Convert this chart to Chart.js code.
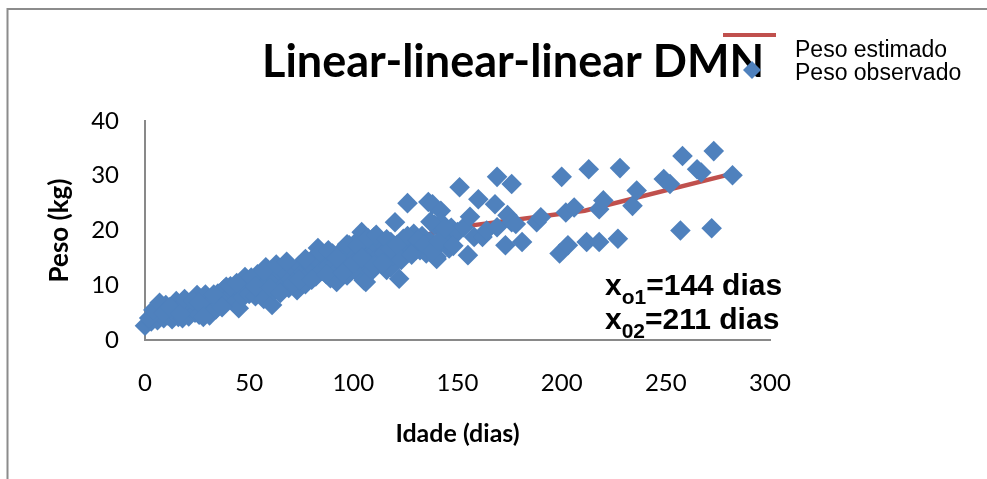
<!DOCTYPE html>
<html>
<head>
<meta charset="utf-8">
<script src="https://cdn.jsdelivr.net/npm/chart.js@4.4.1/dist/chart.umd.min.js"></script>
<style>
  body { margin: 0; background: #fff; }
  canvas { display: block; }
</style>
</head>
<body>
<canvas id="dmnChart" width="987" height="479"></canvas>
<script>
// observed weights (idade em dias, peso em kg)
var ageObs = [0, 3, 5, 6, 8, 9, 10, 11, 13, 14, 15, 16, 17, 18, 20, 21, 22, 24, 25, 26,
  27, 29, 30, 31, 32, 34, 35, 36, 38, 39, 40, 42, 43, 45, 46, 47, 48, 49, 50, 52,
  53, 54, 55, 56, 57, 58, 59, 60, 61, 62, 63, 64, 66, 67, 68, 69, 70, 72, 73, 74,
  75, 76, 77, 78, 79, 80, 81, 82, 83, 84, 85, 86, 88, 89, 90, 91, 92, 93, 94, 95,
  96, 97, 98, 99, 100, 101, 102, 103, 104, 105, 105, 106, 106, 107, 108, 109, 109, 110, 111, 112,
  113, 113, 114, 115, 116, 118, 118, 119, 120, 122, 122, 124, 125, 126, 127, 129, 130, 132, 133, 135,
  136, 137, 138, 139, 140, 140, 142, 142, 142, 143, 145, 146, 146, 147, 150, 151, 153, 155, 156, 158,
  160, 162, 164, 168, 169, 169, 173, 174, 176, 176, 178, 181, 188, 190, 199, 200, 202, 203, 206, 212,
  213, 218, 218, 220, 227, 228, 234, 236, 249, 252, 257, 258, 265, 267, 272, 273, 282,
  2, 4, 7, 9, 12, 17, 19, 23, 26, 28, 33, 37, 41, 44, 51, 53, 57, 60, 63, 65,
  68, 71, 74, 77, 80, 84, 87, 88, 92, 95, 97, 100, 102, 104, 107, 110, 111, 114, 116, 118,
  121, 123, 126, 128, 131, 134, 137, 138, 141, 144, 148];
var pesoObs = [2.6, 3.4, 4.6, 3.6, 5.8, 4.0, 6.4, 4.5, 3.8, 5.4, 7.1, 4.2, 6.0, 4.0, 5.2, 4.3, 6.6, 5.0, 8.2, 4.6,
  6.4, 8.3, 5.2, 4.5, 7.0, 5.6, 8.5, 6.5, 9.3, 9.7, 7.5, 8.6, 6.8, 5.8, 9.2, 7.8, 11.5, 9.6, 8.4, 10.5,
  8.0, 12.0, 9.6, 11.2, 7.5, 13.3, 10.4, 12.2, 6.4, 9.0, 11.0, 12.8, 13.3, 10.1, 12.0, 9.5, 11.2, 12.7, 9.1, 13.6,
  11.4, 12.4, 10.2, 14.1, 12.1, 13.4, 15.0, 11.6, 16.8, 14.2, 12.6, 15.4, 13.5, 11.3, 15.8, 14.0, 10.6, 13.0, 16.2, 14.6,
  13.3, 11.8, 17.3, 15.2, 16.0, 12.7, 14.5, 18.5, 19.7, 10.9, 13.6, 16.5, 10.6, 15.4, 17.9, 12.7, 14.2, 18.8, 16.4, 17.0,
  14.5, 15.6, 17.6, 16.0, 12.8, 13.3, 17.9, 15.4, 21.5, 11.2, 16.2, 18.5, 15.6, 25.0, 17.0, 19.4, 16.4, 16.4, 19.0, 15.8,
  25.2, 18.0, 24.8, 21.0, 15.2, 14.8, 23.6, 20.6, 21.5, 18.8, 19.1, 16.7, 17.6, 20.5, 19.7, 27.9, 20.6, 15.5, 22.5, 18.8,
  25.7, 18.8, 20.0, 24.8, 29.8, 20.6, 17.3, 22.8, 28.5, 21.5, 21.2, 17.9, 21.5, 22.4, 15.8, 29.8, 23.3, 17.3, 24.2, 17.9,
  31.2, 23.9, 17.9, 25.5, 18.5, 31.4, 24.5, 27.3, 29.4, 28.5, 20.0, 33.6, 31.2, 30.6, 20.4, 34.5, 30.1,
  4.0, 5.5, 6.8, 5.0, 6.0, 4.8, 7.5, 7.2, 6.8, 4.2, 8.3, 6.0, 9.8, 10.4, 11.4, 9.8, 12.6, 9.6, 13.8, 8.6,
  14.3, 10.4, 11.0, 14.8, 11.0, 16.0, 12.0, 16.4, 15.0, 12.3, 17.5, 14.0, 17.2, 15.0, 18.6, 13.6, 19.2, 14.0, 18.4, 16.6,
  17.4, 14.6, 19.0, 15.6, 18.2, 17.4, 21.6, 16.2, 18.0, 20.4, 17.2];

// fitted linear-linear-linear model, break points at 144 and 211 days
var ageEst = [0, 144, 211, 282];
var pesoEst = [2.5, 20.3, 23.6, 30.4];

var xTicks = [0, 50, 100, 150, 200, 250, 300];
var yTicks = [0, 10, 20, 30, 40];

var chartTitle = 'Linear-linear-linear DMN';
var legendLabels = ['Peso estimado', 'Peso observado'];
var breakNotes = [['x', 'o1', '=144 dias'], ['x', '02', '=211 dias']];

var blue = '#4F81BD';
var red = '#C0504D';
var axisGray = '#898989';

function toPoints(xs, ys) {
  return xs.map(function (x, i) { return { x: x, y: ys[i] }; });
}

// frame, title, legend and the break point notes
var extras = {
  id: 'extras',
  beforeDraw: function (chart) {
    var ctx = chart.ctx;
    ctx.save();
    ctx.strokeStyle = '#8c8c8c';
    ctx.lineWidth = 2;
    ctx.beginPath();
    ctx.moveTo(7.5, 479);
    ctx.lineTo(7.5, 9);
    ctx.lineTo(987, 9);
    ctx.stroke();
    ctx.restore();
  },
  afterDraw: function (chart) {
    var ctx = chart.ctx;
    ctx.save();
    ctx.fillStyle = '#000';
    ctx.textBaseline = 'alphabetic';
    ctx.textAlign = 'left';

    ctx.font = 'bold 45px Lato';
    ctx.fillText(chartTitle, 262, 77);

    // legend
    ctx.strokeStyle = red;
    ctx.lineWidth = 4;
    ctx.beginPath();
    ctx.moveTo(723, 35);
    ctx.lineTo(776, 35);
    ctx.stroke();
    ctx.fillStyle = blue;
    ctx.beginPath();
    ctx.moveTo(752, 61);
    ctx.lineTo(761, 70);
    ctx.lineTo(752, 79);
    ctx.lineTo(743, 70);
    ctx.closePath();
    ctx.fill();
    ctx.fillStyle = '#000';
    ctx.font = '23px "Liberation Sans"';
    ctx.fillText(legendLabels[0], 795, 57);
    ctx.fillText(legendLabels[1], 795, 80);

    // x_o1 / x_02 notes
    var baselines = [295, 329];
    breakNotes.forEach(function (n, i) {
      var x = 605;
      var y = baselines[i];
      ctx.font = 'bold 30px "Liberation Sans"';
      ctx.fillText(n[0], x, y);
      x += ctx.measureText(n[0]).width;
      ctx.font = 'bold 21px "Liberation Sans"';
      ctx.fillText(n[1], x, y + 9);
      x += ctx.measureText(n[1]).width;
      ctx.font = 'bold 30px "Liberation Sans"';
      ctx.fillText(n[2], x, y);
    });
    ctx.restore();
  }
};

new Chart(document.getElementById('dmnChart'), {
  type: 'scatter',
  data: {
    datasets: [{
      label: legendLabels[1],
      data: toPoints(ageObs, pesoObs),
      pointStyle: 'rectRot',
      pointRadius: 10.3,
      pointBackgroundColor: blue,
      pointBorderWidth: 0,
      clip: false
    }, {
      label: legendLabels[0],
      type: 'line',
      data: toPoints(ageEst, pesoEst),
      borderColor: red,
      borderWidth: 4.5,
      pointRadius: 0,
      fill: false,
      tension: 0
    }]
  },
  options: {
    responsive: false,
    animation: false,
    devicePixelRatio: 1,
    layout: { padding: { left: 10, right: 217, top: 121, bottom: 10 } },
    plugins: {
      legend: { display: false },
      title: { display: false },
      tooltip: { enabled: false }
    },
    scales: {
      x: {
        type: 'linear',
        min: 0,
        max: 300,
        afterBuildTicks: function (scale) {
          scale.ticks = xTicks.map(function (v) { return { value: v }; });
        },
        afterFit: function (scale) { scale.height = 129; },
        grid: { display: false, drawTicks: false },
        border: { display: true, color: axisGray, width: 2 },
        ticks: { color: '#000', padding: 29, font: { family: 'Lato', size: 24 } },
        title: {
          display: true,
          text: 'Idade (dias)',
          color: '#000',
          font: { family: 'Lato', size: 25, weight: 'bold' },
          padding: { top: 0, bottom: 20 }
        }
      },
      y: {
        type: 'linear',
        min: 0,
        max: 40,
        afterBuildTicks: function (scale) {
          scale.ticks = yTicks.map(function (v) { return { value: v }; });
        },
        afterFit: function (scale) { scale.width = 135; },
        grid: { display: false, drawTicks: false },
        border: { display: true, color: axisGray, width: 2 },
        ticks: { color: '#000', padding: 26, font: { family: 'Lato', size: 24 } },
        title: {
          display: true,
          text: 'Peso (kg)',
          color: '#000',
          font: { family: 'Lato', size: 26, weight: 'bold' },
          padding: { top: 34, bottom: 0 }
        }
      }
    }
  },
  plugins: [extras]
});
</script>
</body>
</html>
